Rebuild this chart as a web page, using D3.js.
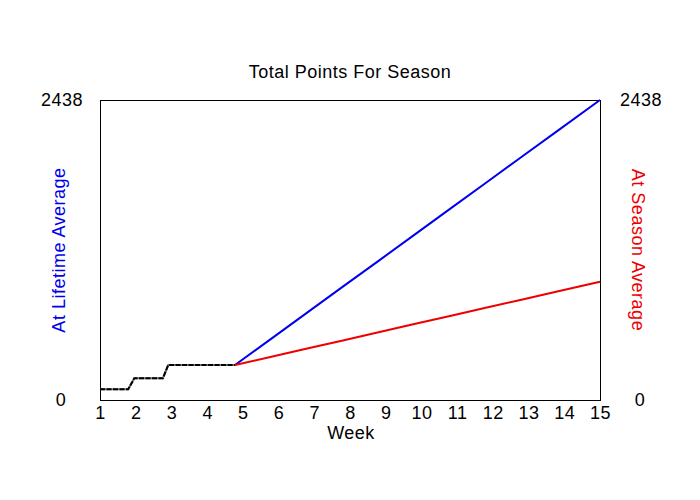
<!DOCTYPE html>
<html>
<head>
<meta charset="utf-8">
<script src="https://cdn.jsdelivr.net/npm/d3@7"></script>
<style>
    body { margin: 0; background: #fff; }
    svg text { font-family: "Liberation Sans", Arial, sans-serif; letter-spacing: 0.5px; }
</style>
</head>
<body>
<div id="container"></div>
<script>
"use strict";

const WIDTH = 700;
const HEIGHT = 500;
const LEFT = 100;
const RIGHT = 600;
const TOP = 100;
const BOTTOM = 400;
const FONT = 18;

const Y_MAX = 2438;
const WEEKS = d3.range(1, 16);

// played weeks (black), then projections (blue / red)
const PLAYED_WEEK = [1, 1.79, 1.96, 2.76, 2.91, 4.78];
const PLAYED_PTS = [87, 87, 176, 176, 284, 284];

const LIFETIME_WEEK = [4.78, 5.8, 6.8, 7.8, 8.8, 9.8, 10.8, 11.8, 12.8, 13.8, 15];
const LIFETIME_PTS = [284, 499, 710, 921, 1131, 1342, 1553, 1764, 1975, 2185, 2438];

const SEASON_WEEK = [4.78, 5.8, 6.8, 7.8, 8.8, 9.8, 10.8, 11.8, 12.8, 13.8, 15];
const SEASON_PTS = [284, 352, 418, 484, 550, 617, 683, 749, 815, 882, 961];

const SVG = d3.select("div#container").append("svg")
    .attr("width", WIDTH)
    .attr("height", HEIGHT);

const xScale = d3.scaleLinear().domain([1, 15]).range([LEFT, RIGHT]);
const yScale = d3.scaleLinear().domain([0, Y_MAX]).range([BOTTOM, TOP]);

const line = d3.line()
    .x(d => xScale(d[0]))
    .y(d => yScale(d[1]));

function pairs(xs, ys) {
    return xs.map((x, i) => [x, ys[i]]);
}

// frame
SVG.append("rect")
    .attr("x", LEFT + 0.5)
    .attr("y", TOP + 0.5)
    .attr("width", RIGHT - LEFT)
    .attr("height", BOTTOM - TOP)
    .attr("fill", "none")
    .attr("stroke", "#000")
    .attr("stroke-width", 1)
    .attr("shape-rendering", "crispEdges");

// x axis, labels only
const xaxis = d3.axisBottom(xScale)
    .tickValues(WEEKS)
    .tickFormat(d3.format("d"))
    .tickSize(0)
    .tickPadding(6);

const gx = SVG.append("g")
    .attr("transform", `translate(0, ${BOTTOM})`)
    .call(xaxis);
gx.select(".domain").remove();
gx.selectAll("text")
    .attr("font-size", FONT)
    .attr("font-family", "Liberation Sans, Arial, sans-serif")
    .attr("fill", "#000");

// y end labels on both sides
[61, 640].forEach(function (x) {
    [0, Y_MAX].forEach(function (v) {
        SVG.append("text")
            .attr("x", x + (v ? 1 : 0))
            .attr("y", yScale(v))
            .attr("dy", "0.36em")
            .attr("text-anchor", "middle")
            .attr("font-size", FONT)
            .text(v);
    });
});

// lines
SVG.append("path")
    .attr("d", line(pairs(LIFETIME_WEEK, LIFETIME_PTS)))
    .attr("fill", "none")
    .attr("stroke", "#0000ee")
    .attr("stroke-width", 2);

SVG.append("path")
    .attr("d", line(pairs(SEASON_WEEK, SEASON_PTS)))
    .attr("fill", "none")
    .attr("stroke", "#ee0000")
    .attr("stroke-width", 2);

SVG.append("path")
    .attr("d", line(pairs(PLAYED_WEEK, PLAYED_PTS)))
    .attr("fill", "none")
    .attr("stroke", "#777")
    .attr("stroke-width", 2);

SVG.append("path")
    .attr("d", line(pairs(PLAYED_WEEK, PLAYED_PTS)))
    .attr("fill", "none")
    .attr("stroke", "#000")
    .attr("stroke-width", 2)
    .attr("stroke-dasharray", "5 1.5");

// titles
SVG.append("text")
    .attr("x", 350)
    .attr("y", 78)
    .attr("text-anchor", "middle")
    .attr("font-size", FONT)
    .text("Total Points For Season");

SVG.append("text")
    .attr("x", 351)
    .attr("y", 439)
    .attr("text-anchor", "middle")
    .attr("font-size", FONT)
    .text("Week");

SVG.append("text")
    .attr("transform", "translate(65, 250) rotate(-90)")
    .attr("text-anchor", "middle")
    .attr("font-size", FONT)
    .attr("fill", "#0000ee")
    .text("At Lifetime Average");

SVG.append("text")
    .attr("transform", "translate(632, 250) rotate(90)")
    .attr("text-anchor", "middle")
    .attr("font-size", FONT)
    .attr("fill", "#ee0000")
    .text("At Season Average");
</script>
</body>
</html>
